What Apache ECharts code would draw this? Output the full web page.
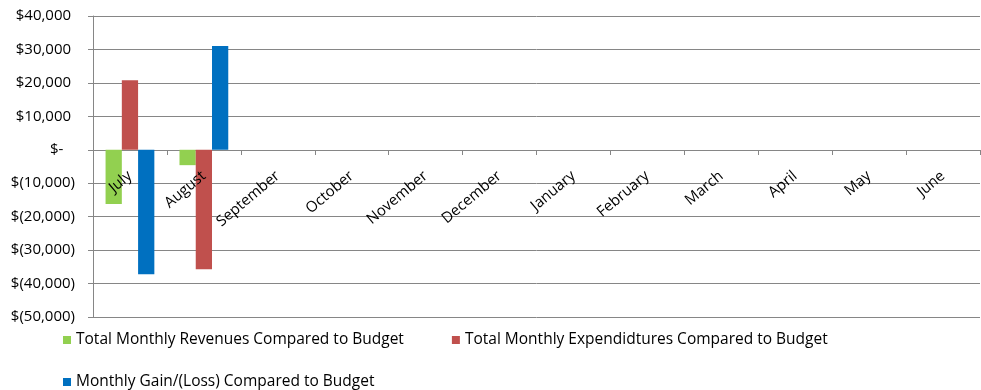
<!DOCTYPE html>
<html>
<head>
<meta charset="utf-8">
<style>
  html, body { margin: 0; padding: 0; background: #fff; }
  #chart { width: 981px; height: 390px; }
</style>
</head>
<body>
<div id="chart"></div>
<script src="https://cdn.jsdelivr.net/npm/echarts@6/dist/echarts.min.js"></script>
<script type="text/javascript">
var months = ['July', 'August', 'September', 'October', 'November', 'December',
              'January', 'February', 'March', 'April', 'May', 'June'];
var revenues = [-16200, -4600];
var expenditures = [20800, -35700];
var gainLoss = [-37200, 31000];
var seriesNames = ['Total Monthly Revenues Compared to Budget',
                   'Total Monthly Expendidtures Compared to Budget',
                   'Monthly Gain/(Loss) Compared to Budget'];

var fontFam = '"Open Sans", sans-serif';

function money(v) {
    if (v === 0) return '$-   ';
    var s = Math.abs(v).toString().replace(/\B(?=(\d{3})+(?!\d))/g, ',');
    return v < 0 ? '$(' + s + ')' : '$' + s + ' ';
}

var chart = echarts.init(document.getElementById('chart'));

var option = {
    animation: false,
    grid: { left: 93, right: 1, top: 16, bottom: 73 },
    legend: [
        {
            data: [seriesNames[0], seriesNames[1]],
            left: 58, top: 327,
            itemWidth: 8, itemHeight: 8, itemGap: 48,
            icon: 'rect',
            textStyle: { fontFamily: fontFam, fontSize: 15.5, color: '#000' }
        },
        {
            data: [seriesNames[2]],
            left: 58, top: 369,
            itemWidth: 8, itemHeight: 8,
            icon: 'rect',
            textStyle: { fontFamily: fontFam, fontSize: 15.5, color: '#000' }
        }
    ],
    xAxis: {
        type: 'category',
        data: months,
        offset: -167,   // sit the labels on the $- line
        z: 5,
        axisLine: { show: false, onZero: false },
        axisTick: { show: true, length: 5, lineStyle: { color: '#868686' } },
        axisLabel: {
            rotate: 40, interval: 0, margin: 24,
            fontFamily: fontFam, fontSize: 15, color: '#000'
        },
        splitLine: { show: false }
    },
    yAxis: {
        type: 'value',
        min: -50000, max: 40000, interval: 10000,
        axisLine: { show: true, lineStyle: { color: '#868686' } },
        axisTick: { show: true, length: 5, lineStyle: { color: '#868686' } },
        axisLabel: {
            formatter: money, margin: 18,
            fontFamily: fontFam, fontSize: 15, color: '#000'
        },
        splitLine: { lineStyle: { color: '#868686', width: 1 } }
    },
    series: [
        { name: seriesNames[0], type: 'bar', data: revenues, barGap: '0%', barCategoryGap: '34%',
          itemStyle: { color: '#92D050' } },
        { name: seriesNames[1], type: 'bar', data: expenditures, barGap: '0%', barCategoryGap: '34%',
          itemStyle: { color: '#C0504D' } },
        { name: seriesNames[2], type: 'bar', data: gainLoss, barGap: '0%', barCategoryGap: '34%',
          itemStyle: { color: '#0070C0' } }
    ]
};

chart.setOption(option);
</script>
</body>
</html>
